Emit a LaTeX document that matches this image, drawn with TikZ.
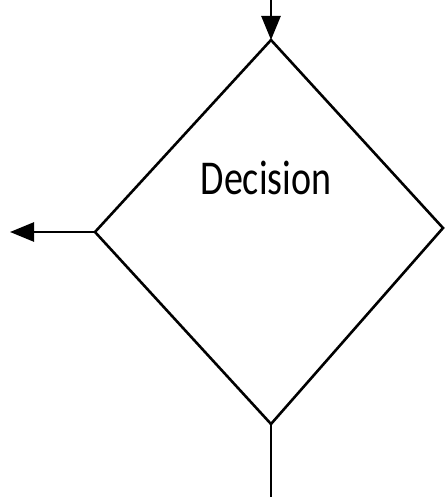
\documentclass[tikz,border=0pt]{standalone}
\usepackage{fontspec}
\setmainfont{Carlito}
\usetikzlibrary{arrows.meta}
\begin{document}
\begin{tikzpicture}[x=1pt,y=-1pt,
  edge/.style={line width=2.6pt,draw=black},
  arr/.style={edge,-{Triangle[length=24pt,width=19pt]}},
  label/.style={inner sep=0pt,font=\fontsize{38}{40}\selectfont}]
\useasboundingbox (0,0) rectangle (445,497);
\coordinate (top) at (271,40);
\coordinate (left) at (95,232);
\coordinate (right) at (443,228);
\coordinate (bottom) at (271,424);
\coordinate (topin) at (271,0);
\coordinate (leftout) at (10,232);
\coordinate (bottomout) at (271,497);
\draw[edge,line join=miter] (top) -- (right) -- (bottom) -- (left) -- cycle;
\node[label] (dec) at (266,178) {\scalebox{1}[1.28]{Decision}};
\draw[arr] (topin) -- (top);
\draw[arr] (left) -- (leftout);
\draw[edge] (bottom) -- (bottomout);
\end{tikzpicture}
\end{document}
